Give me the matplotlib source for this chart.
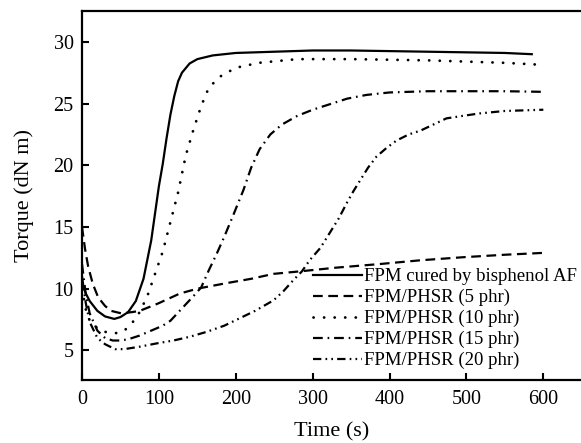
import matplotlib as mpl
import matplotlib.pyplot as plt

mpl.use("Agg")

# %%
# torque curves (time in s, torque in dN m)
t_af = [0, 5, 10, 20, 30, 42, 50, 60, 70, 80, 90, 100, 105, 110, 115, 120,
        125, 130, 140, 150, 170, 200, 250, 300, 350, 400, 450, 500, 550, 585]
y_af = [10.5, 9.6, 9.0, 8.2, 7.75, 7.55, 7.7, 8.1, 9.0, 10.8, 13.9, 18.3,
        20.1, 22.2, 24.1, 25.6, 26.8, 27.5, 28.25, 28.6, 28.9, 29.1, 29.2,
        29.3, 29.3, 29.25, 29.2, 29.15, 29.1, 29.0]

t_5 = [0, 4, 8, 14, 21, 30, 38, 51, 65, 75, 99, 127, 150, 188, 220, 249,
       283, 330, 388, 440, 496, 550, 600]
y_5 = [15.0, 13.2, 11.8, 10.4, 9.3, 8.6, 8.2, 8.0, 8.1, 8.2, 8.8, 9.6, 10.0,
       10.45, 10.8, 11.2, 11.4, 11.7, 12.0, 12.3, 12.55, 12.75, 12.9]

t_10 = [0, 5, 10, 20, 30, 45, 55, 65, 75, 85, 95, 105, 115, 125, 135, 145,
        155, 165, 180, 200, 230, 280, 350, 450, 550, 595]
y_10 = [10.0, 8.3, 7.4, 6.8, 6.5, 6.4, 6.6, 7.2, 8.1, 9.4, 11.2, 13.0, 15.4,
        17.8, 20.8, 22.9, 24.8, 26.3, 27.2, 27.9, 28.3, 28.6, 28.6, 28.5,
        28.3, 28.15]

t_15 = [0, 5, 10, 20, 30, 40, 50, 60, 75, 90, 105, 115, 130, 145, 155, 165,
        175, 185, 197, 210, 220, 231, 245, 260, 280, 300, 320, 345, 370, 400,
        450, 500, 550, 600]
y_15 = [12.0, 9.5, 8.0, 6.6, 6.0, 5.8, 5.8, 5.9, 6.2, 6.6, 7.0, 7.4, 8.4,
        9.4, 10.1, 11.5, 12.8, 14.2, 16.0, 18.0, 19.8, 21.3, 22.5, 23.3, 24.0,
        24.5, 24.9, 25.4, 25.7, 25.9, 26.0, 26.0, 26.0, 25.95]

t_20 = [0, 5, 10, 20, 30, 43, 55, 75, 100, 119, 140, 162, 185, 205, 225, 249,
        262, 275, 286, 296, 310, 322, 334, 344, 353, 362, 372, 383, 396, 409,
        425, 440, 457, 474, 495, 517, 550, 600]
y_20 = [11.0, 8.8, 7.3, 6.0, 5.5, 5.1, 5.1, 5.3, 5.6, 5.8, 6.1, 6.5, 7.0, 7.6,
        8.2, 9.05, 9.8, 10.7, 11.4, 12.3, 13.3, 14.5, 15.7, 16.9, 17.9, 18.8,
        19.8, 20.7, 21.4, 22.0, 22.5, 22.8, 23.3, 23.8, 24.0, 24.2, 24.4, 24.5]

labels = ["FPM cured by bisphenol AF", "FPM/PHSR (5 phr)", "FPM/PHSR (10 phr)",
          "FPM/PHSR (15 phr)", "FPM/PHSR (20 phr)"]

# %%
plt.rcParams["font.family"] = ["Liberation Serif", "DejaVu Serif"]
plt.rcParams["lines.scale_dashes"] = False

fig = plt.figure(figsize=(5.81, 4.43), dpi=100)
ax = fig.add_axes([82 / 581, 1 - 380 / 443, 499 / 581, 369 / 443])

lw = 1.6
ax.plot(t_af, y_af, color="black", lw=lw, label=labels[0])
ax.plot(t_5, y_5, color="black", lw=lw, dashes=(7, 4), label=labels[1])
ax.plot(t_10, y_10, color="black", lw=lw + 0.4, dashes=(0.1, 7.5),
        dash_capstyle="round", label=labels[2])
ax.plot(t_15, y_15, color="black", lw=lw, dashes=(7, 3.5, 1.2, 3.5),
        label=labels[3])
ax.plot(t_20, y_20, color="black", lw=lw, dashes=(6, 3, 1.2, 3, 1.2, 3),
        label=labels[4])

ax.set_xlim(0, 649)
ax.set_ylim(2.6, 32.5)
ax.set_xticks([0, 100, 200, 300, 400, 500, 600])
ax.set_yticks([5, 10, 15, 20, 25, 30])
ax.tick_params(direction="in", length=5, width=1.5, labelsize=14.5,
               top=False, right=False)
ax.tick_params(axis="x", pad=7)
ax.tick_params(axis="y", pad=6)
for side in ["left", "bottom", "top"]:
    ax.spines[side].set_linewidth(1.6)
ax.spines["right"].set_visible(False)

ax.set_xlabel("Time (s)", fontsize=16, labelpad=10)
ax.set_ylabel("Torque (dN m)", fontsize=16, labelpad=14)

ax.legend(loc="upper left", bbox_to_anchor=(313 / 581, 1 - 268 / 443),
          bbox_transform=fig.transFigure, frameon=False, fontsize=13.5,
          handlelength=2.6, handletextpad=0.1, labelspacing=0.2,
          borderpad=0, borderaxespad=0)

fig.savefig("out.png", dpi=100)
